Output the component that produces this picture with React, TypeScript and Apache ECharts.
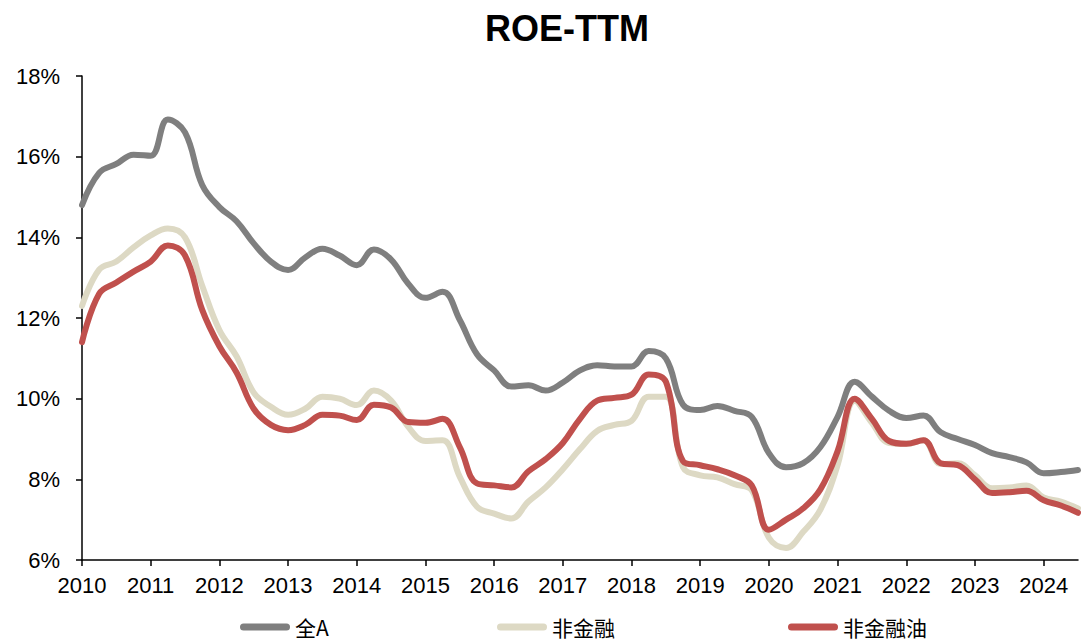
import React, { useEffect, useRef } from "react";
import * as echarts from "echarts";

const years: number[] = [2010, 2011, 2012, 2013, 2014, 2015, 2016, 2017, 2018, 2019, 2020, 2021, 2022, 2023, 2024];
const quarters: string[] = [];
years.forEach((y) => {
  for (let q = 1; q <= 4; q++) {
    if (y === 2024 && q > 3) break;
    quarters.push(`${y}Q${q}`);
  }
});

const yTicks = [6, 8, 10, 12, 14, 16, 18];

const allA: number[] = [
  14.8, 15.6, 15.82, 16.05,
  16.02, 16.92, 16.6, 15.3,
  14.75, 14.4, 13.85, 13.4,
  13.19, 13.5, 13.72, 13.55,
  13.31, 13.7, 13.45, 12.85,
  12.5, 12.65, 11.95, 11.1,
  10.7, 10.3, 10.33, 10.2,
  10.4, 10.7, 10.83, 10.8,
  10.8, 11.18, 11.0, 9.85,
  9.72, 9.82, 9.7, 9.55,
  8.65, 8.3, 8.4, 8.8,
  9.55, 10.42, 10.05, 9.7,
  9.52, 9.58, 9.17, 9.0,
  8.85, 8.65, 8.55, 8.42,
  8.15, 8.18, 8.23,
];

const nonFin: number[] = [
  12.3, 13.2, 13.4, 13.75,
  14.05, 14.22, 14.0, 12.8,
  11.7, 11.05, 10.15, 9.8,
  9.6, 9.75, 10.05, 10.0,
  9.84, 10.2, 9.95, 9.3,
  8.95, 8.97, 8.06, 7.32,
  7.15, 7.03, 7.45, 7.8,
  8.25, 8.75, 9.2, 9.35,
  9.45, 10.05, 10.05, 8.3,
  8.1, 8.05, 7.88, 7.73,
  6.55, 6.3, 6.7, 7.25,
  8.35, 9.95, 9.4, 8.9,
  8.88, 8.97, 8.38, 8.4,
  8.1, 7.78, 7.8, 7.85,
  7.55, 7.45, 7.28,
];

const nonFinOil: number[] = [
  11.4, 12.6, 12.88, 13.15,
  13.4, 13.8, 13.55, 12.2,
  11.3, 10.65, 9.75, 9.35,
  9.22, 9.35, 9.6, 9.58,
  9.47, 9.85, 9.78, 9.42,
  9.4, 9.5, 8.8, 7.9,
  7.85, 7.8, 8.2, 8.5,
  8.9, 9.5, 9.95, 10.02,
  10.1, 10.6, 10.42, 8.45,
  8.35, 8.25, 8.1, 7.85,
  6.75, 7.0, 7.28, 7.75,
  8.7, 10.0, 9.5, 8.95,
  8.88, 8.97, 8.4, 8.35,
  8.0, 7.66, 7.68, 7.72,
  7.48, 7.35, 7.17,
];

const seriesNames = ["全A", "非金融", "非金融油"];
const colors = ["#7F7F7F", "#DDD9C4", "#C0504D"];
const legendLefts = [235, 492, 783];

const capsule = "path://M3.5,0 L46.5,0 A3.5,3.5 0 0 1 46.5,7 L3.5,7 A3.5,3.5 0 0 1 3.5,0 Z";

export default function App() {
  const ref = useRef<HTMLDivElement>(null);
  useEffect(() => {
    if (!ref.current) return;
    const chart = echarts.init(ref.current, undefined, { renderer: "svg" });
    const datasets = [allA, nonFin, nonFinOil];
    chart.setOption({
      animation: false,
      backgroundColor: "#fff",
      textStyle: { fontFamily: "Liberation Sans, Arial, sans-serif" },
      graphic: [
        {
          type: "text",
          x: 567,
          y: 28,
          style: {
            text: "ROE-TTM",
            fontSize: 36,
            fontWeight: "bold",
            fontFamily: "Liberation Sans, Arial, sans-serif",
            fill: "#000",
            textAlign: "center",
            textVerticalAlign: "middle",
          },
        },
      ],
      grid: { left: 82, right: 3, top: 76, bottom: 84, containLabel: false },
      legend: seriesNames.map((n, i) => ({
        left: legendLefts[i],
        top: 616,
        padding: [0, 5, 0, 5],
        itemWidth: 50,
        itemHeight: 7,
        data: [{ name: n, icon: capsule }],
        textStyle: { fontSize: 21, lineHeight: 22, color: "#000", fontFamily: "Noto Sans CJK SC, sans-serif" },
      })),
      xAxis: {
        type: "category",
        data: quarters,
        boundaryGap: false,
        axisLine: { lineStyle: { color: "#000", width: 1.5 } },
        axisTick: { interval: 3, length: 6, lineStyle: { color: "#000", width: 1.5 } },
        axisLabel: {
          interval: 3,
          margin: 14,
          fontSize: 22,
          color: "#000",
          formatter: (v: string) => v.slice(0, 4),
        },
        splitLine: { show: false },
      },
      yAxis: {
        type: "value",
        min: yTicks[0],
        max: yTicks[yTicks.length - 1],
        interval: 2,
        axisLine: { show: true, lineStyle: { color: "#000", width: 1.5 } },
        axisTick: { show: true, length: 6, lineStyle: { color: "#000", width: 1.5 } },
        axisLabel: { margin: 22, fontSize: 22, color: "#000", formatter: "{value}%" },
        splitLine: { show: false },
      },
      series: seriesNames.map((name, i) => ({
        name,
        type: "line",
        data: datasets[i],
        smooth: 0.4,
        showSymbol: false,
        symbol: "none",
        lineStyle: { color: colors[i], width: 6, cap: "round", join: "round" },
        itemStyle: { color: colors[i] },
      })),
    });
    return () => chart.dispose();
  }, []);
  return (
    <div
      ref={ref}
      style={{ position: "fixed", left: 0, top: 0, width: 1081, height: 644 }}
    />
  );
}
